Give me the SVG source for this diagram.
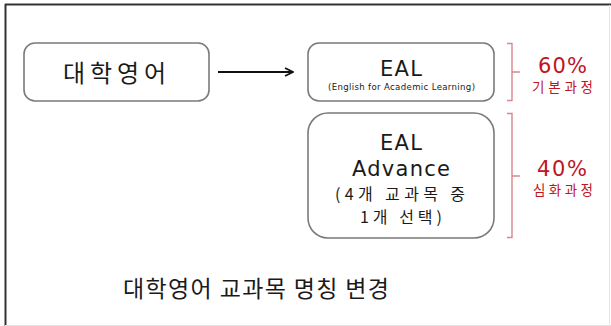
<svg xmlns="http://www.w3.org/2000/svg" width="611" height="326" viewBox="0 0 611 326">
<defs>
<style>
.box{fill:#fff;stroke:#7a7a7a;stroke-width:1.6}
.t{font-family:"Noto Sans CJK KR","Noto Sans",sans-serif;fill:#1a1a1a;text-anchor:middle}
.lat{font-family:"DejaVu Sans","Noto Sans",sans-serif;fill:#1a1a1a;text-anchor:middle}
.red{font-family:"Noto Sans CJK KR","Noto Sans",sans-serif;fill:#c0141e;text-anchor:middle}
.pct{font-family:"DejaVu Sans","Noto Sans",sans-serif;fill:#c0141e;text-anchor:middle}
.br{fill:none;stroke:#d8868c;stroke-width:1.4}
</style>
<marker id="ah" viewBox="0 0 10 10" refX="9" refY="5" markerWidth="10" markerHeight="10" markerUnits="userSpaceOnUse" orient="auto">
<path d="M1,1 L9,5 L1,9" fill="none" stroke="#111" stroke-width="1.8"/>
</marker>
</defs>
<rect width="611" height="326" fill="#fff"/>
<g id="frame">
<line x1="5" y1="4.5" x2="611" y2="4.5" stroke="#333" stroke-width="2"/>
<line x1="5.5" y1="4" x2="5.5" y2="326" stroke="#333" stroke-width="2"/>
<line x1="609.5" y1="5" x2="609.5" y2="326" stroke="#e6e6e6" stroke-width="1"/>
<line x1="5" y1="325.5" x2="611" y2="325.5" stroke="#e6e6e6" stroke-width="1"/>
</g>
<g id="node-daehak">
<rect class="box" x="24" y="43" width="185" height="58" rx="11"/>
<text class="t" x="114.5" y="82" font-size="24" textLength="103" lengthAdjust="spacing">대학영어</text>
</g>
<g id="node-eal">
<rect class="box" x="308" y="43" width="186" height="58" rx="11"/>
<text class="lat" x="401" y="76" font-size="21" textLength="42" lengthAdjust="spacing">EAL</text>
<text class="lat" x="401.5" y="90" font-size="8.6" textLength="147" lengthAdjust="spacing">(English for Academic Learning)</text>
</g>
<g id="node-advance">
<rect class="box" x="308" y="113" width="186" height="125" rx="20"/>
<text class="lat" x="401" y="150" font-size="21" textLength="42" lengthAdjust="spacing">EAL</text>
<text class="lat" x="401" y="176" font-size="21" textLength="98" lengthAdjust="spacing">Advance</text>
<text class="t" x="400" y="199.5" font-size="16" textLength="130" lengthAdjust="spacing">(4개 교과목 중</text>
<text class="t" x="401" y="223" font-size="16" textLength="82" lengthAdjust="spacing">1개 선택)</text>
</g>
<g id="connectors">
<line x1="218" y1="72" x2="293" y2="72" stroke="#111" stroke-width="2" marker-end="url(#ah)"/>
<path class="br" d="M507,43.5 H512 V100.5 H507 M512,72 H520"/>
<path class="br" d="M507,113.5 H512 V237.5 H507 M512,176 H520"/>
</g>
<g id="label-60">
<text class="pct" x="562.5" y="72.5" font-size="21" textLength="49" lengthAdjust="spacing">60%</text>
<text class="red" x="562.5" y="91.5" font-size="13.5" textLength="61" lengthAdjust="spacing">기본과정</text>
</g>
<g id="label-40">
<text class="pct" x="562" y="176" font-size="21" textLength="50" lengthAdjust="spacing">40%</text>
<text class="red" x="563" y="195" font-size="13.5" textLength="60" lengthAdjust="spacing">심화과정</text>
</g>
<g id="title">
<text class="t" x="256" y="297" font-size="23" textLength="266" lengthAdjust="spacing">대학영어 교과목 명칭 변경</text>
</g>
</svg>
